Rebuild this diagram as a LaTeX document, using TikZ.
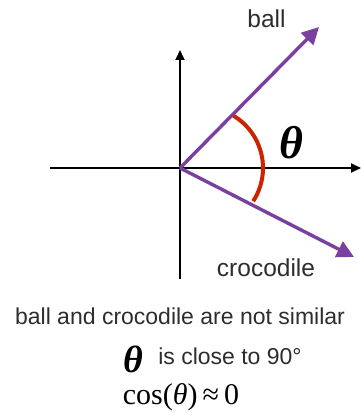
\documentclass[tikz,border=0pt]{standalone}
\usepackage{fontspec}
\setmainfont{Liberation Sans}
\newfontfamily\serifmath{Liberation Serif}
\usetikzlibrary{arrows.meta}
\definecolor{vecpurple}{RGB}{122,64,160}
\definecolor{arcred}{RGB}{204,36,0}
\definecolor{txtgray}{RGB}{45,45,45}
\begin{document}
\begin{tikzpicture}[x=1pt,y=1pt,
  axis/.style={line width=1.8pt,-{Triangle[length=10pt,width=9pt]}},
  vec/.style={vecpurple,line width=3.4pt,-{Triangle[length=17pt,width=17pt]}},
  angarc/.style={arcred,line width=4pt},
  lab/.style={text=txtgray,inner sep=0pt,font=\fontsize{24.5}{28}\selectfont},
  sent/.style={text=txtgray,inner sep=0pt,font=\fontsize{23}{26}\selectfont},
  bigtheta/.style={inner sep=0pt,font=\serifmath\bfseries\itshape\fontsize{46}{50}\selectfont}]
\useasboundingbox (0,0) rectangle (361,415);
% axes
\coordinate (O) at (180,247);
\coordinate (xl) at (50,247);
\coordinate (xr) at (361,247);
\coordinate (yb) at (180,136);
\coordinate (yt) at (180,365);
\draw[axis] (xl) -- (xr);
\draw[axis] (yb) -- (yt);
% vectors
\coordinate (balltip) at (319,388);
\coordinate (croctip) at (354,158);
\draw[vec] (O) -- (balltip);
\draw[vec] (O) -- (croctip);
% angle arc
\coordinate (arcc) at (202,247);
\draw[angarc] ([shift={(59:61)}]arcc) arc[start angle=59,end angle=-33,radius=61];
% labels
\node[lab,anchor=base] (ball) at (266.5,387) {ball};
\node[lab,anchor=base] (croc) at (266,138) {crocodile};
\node[bigtheta] (theta) at (291,272) {θ};
% bottom text
\node[inner sep=0pt,font=\serifmath\bfseries\itshape\fontsize{38}{40}\selectfont] (th2) at (133,55.5) {θ};
\node[sent,anchor=base] (sim) at (180,90) {ball and crocodile are not similar};
\node[sent,anchor=base] (close) at (230,50) {is close to 90°};
\node[inner sep=0pt,anchor=base,font=\serifmath\fontsize{30}{34}\selectfont] (cos) at (181,10) {cos(\textit{θ})\,≈\,0};
\end{tikzpicture}
\end{document}
